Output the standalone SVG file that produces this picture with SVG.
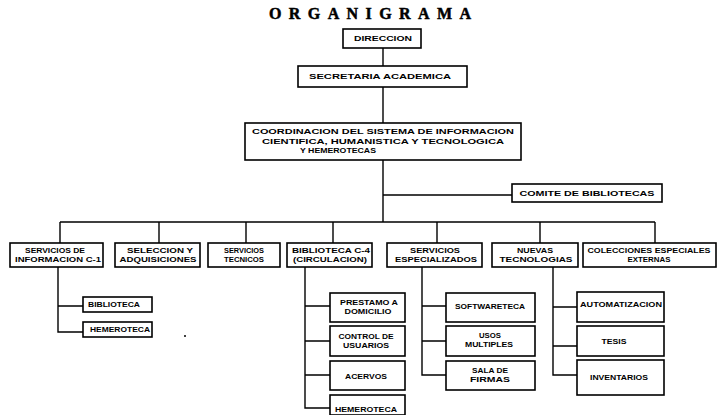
<svg xmlns="http://www.w3.org/2000/svg" width="720" height="415" viewBox="0 0 720 415">
<style>
.box{fill:#fff;stroke:#000;stroke-width:1.6}
.t{font-family:"Liberation Sans",Arial,sans-serif;font-weight:bold;font-size:7.2px;fill:#000;text-anchor:middle}
.c{stroke:#000;stroke-width:1.4;fill:none}
.title{font-family:"Liberation Serif","Times New Roman",serif;font-weight:900;font-size:16px;fill:#000;stroke:#000;stroke-width:0.5}
</style>
<rect width="720" height="415" fill="#fff"/>
<text class="title" x="269" y="19" textLength="202" lengthAdjust="spacing">ORGANIGRAMA</text>

<g id="connectors">
<path class="c" d="M383 48V66M383 87V123M383 160V222M383 195H512"/>
<path class="c" d="M60 222H655M60 222V243M159 222V243M246 222V243M333 222V243M437 222V243M540 222V243M655 222V243"/>
<path class="c" d="M58 267V332H83M58 306H83"/>
<path class="c" d="M305 267V408H330M305 306H330M305 341H330M305 375H330"/>
<path class="c" d="M422 267V375H446M422 306H446M422 341H446"/>
<path class="c" d="M553 267V375H577M553 307H577M553 346H577"/>
</g>

<g id="direccion"><rect class="box" x="343" y="29" width="78" height="19"/><text class="t" x="383" y="41" textLength="58" lengthAdjust="spacingAndGlyphs">DIRECCION</text></g>
<g id="secretaria"><rect class="box" x="298" y="66" width="169" height="21"/><text class="t" x="380" y="79" textLength="142" lengthAdjust="spacingAndGlyphs">SECRETARIA ACADEMICA</text></g>
<g id="coordinacion"><rect class="box" x="245" y="123" width="276" height="37"/>
<text class="t" x="383" y="134" textLength="262" lengthAdjust="spacingAndGlyphs">COORDINACION DEL SISTEMA DE INFORMACION</text>
<text class="t" x="383" y="143.5" textLength="242" lengthAdjust="spacingAndGlyphs">CIENTIFICA, HUMANISTICA Y TECNOLOGICA</text>
<text class="t" x="338" y="153" textLength="76" lengthAdjust="spacingAndGlyphs">Y  HEMEROTECAS</text></g>
<g id="comite"><rect class="box" x="512" y="184" width="150" height="18"/><text class="t" x="587" y="196" textLength="135" lengthAdjust="spacingAndGlyphs">COMITE DE BIBLIOTECAS</text></g>

<g id="servicios-informacion"><rect class="box" x="10" y="243" width="93" height="24"/><text class="t" x="55" y="253" textLength="60" lengthAdjust="spacingAndGlyphs">SERVICIOS DE</text><text class="t" x="58" y="262" textLength="86" lengthAdjust="spacingAndGlyphs">INFORMACION C-1</text></g>
<g id="seleccion"><rect class="box" x="115" y="243" width="85" height="24"/><text class="t" x="160" y="253" textLength="66" lengthAdjust="spacingAndGlyphs">SELECCION Y</text><text class="t" x="158" y="262" textLength="77" lengthAdjust="spacingAndGlyphs">ADQUISICIONES</text></g>
<g id="servicios-tecnicos"><rect class="box" x="208" y="243" width="72" height="24"/><text class="t" x="244" y="253" textLength="40" lengthAdjust="spacingAndGlyphs">SERVICIOS</text><text class="t" x="244" y="262" textLength="40" lengthAdjust="spacingAndGlyphs">TECNICOS</text></g>
<g id="biblioteca-c4"><rect class="box" x="287" y="243" width="85" height="24"/><text class="t" x="331" y="253" textLength="78" lengthAdjust="spacingAndGlyphs">BIBLIOTECA C-4</text><text class="t" x="330" y="262" textLength="74" lengthAdjust="spacingAndGlyphs">(CIRCULACION)</text></g>
<g id="servicios-especializados"><rect class="box" x="387" y="243" width="95" height="24"/><text class="t" x="435" y="253" textLength="50" lengthAdjust="spacingAndGlyphs">SERVICIOS</text><text class="t" x="436" y="262" textLength="82" lengthAdjust="spacingAndGlyphs">ESPECIALIZADOS</text></g>
<g id="nuevas-tecnologias"><rect class="box" x="492" y="243" width="86" height="24"/><text class="t" x="535" y="253" textLength="36" lengthAdjust="spacingAndGlyphs">NUEVAS</text><text class="t" x="536" y="262" textLength="73" lengthAdjust="spacingAndGlyphs">TECNOLOGIAS</text></g>
<g id="colecciones"><rect class="box" x="583" y="243" width="133" height="24"/><text class="t" x="649" y="253" textLength="123" lengthAdjust="spacingAndGlyphs">COLECCIONES ESPECIALES</text><text class="t" x="649" y="262" textLength="43" lengthAdjust="spacingAndGlyphs">EXTERNAS</text></g>

<g id="biblioteca"><rect class="box" x="83" y="297" width="69" height="15"/><text class="t" x="114" y="307" textLength="52" lengthAdjust="spacingAndGlyphs">BIBLIOTECA</text></g>
<g id="hemeroteca-1"><rect class="box" x="83" y="322" width="69" height="15"/><text class="t" x="120" y="332" textLength="60" lengthAdjust="spacingAndGlyphs">HEMEROTECA</text></g>

<g id="prestamo"><rect class="box" x="330" y="293" width="75" height="29"/><text class="t" x="369" y="305" textLength="58" lengthAdjust="spacingAndGlyphs">PRESTAMO A</text><text class="t" x="368" y="314" textLength="47" lengthAdjust="spacingAndGlyphs">DOMICILIO</text></g>
<g id="control"><rect class="box" x="330" y="326" width="75" height="30"/><text class="t" x="366" y="339" textLength="55" lengthAdjust="spacingAndGlyphs">CONTROL DE</text><text class="t" x="366" y="348" textLength="46" lengthAdjust="spacingAndGlyphs">USUARIOS</text></g>
<g id="acervos"><rect class="box" x="330" y="361" width="75" height="29"/><text class="t" x="366" y="379" textLength="42" lengthAdjust="spacingAndGlyphs">ACERVOS</text></g>
<g id="hemeroteca-2"><rect class="box" x="330" y="395" width="75" height="20"/><text class="t" x="366" y="412" textLength="62" lengthAdjust="spacingAndGlyphs">HEMEROTECA</text></g>

<g id="softwareteca"><rect class="box" x="446" y="293" width="89" height="29"/><text class="t" x="490" y="309" textLength="70" lengthAdjust="spacingAndGlyphs">SOFTWARETECA</text></g>
<g id="usos-multiples"><rect class="box" x="446" y="326" width="89" height="30"/><text class="t" x="490" y="338" textLength="22" lengthAdjust="spacingAndGlyphs">USOS</text><text class="t" x="489" y="347" textLength="48" lengthAdjust="spacingAndGlyphs">MULTIPLES</text></g>
<g id="sala"><rect class="box" x="446" y="361" width="89" height="29"/><text class="t" x="490" y="373" textLength="36" lengthAdjust="spacingAndGlyphs">SALA DE</text><text class="t" x="490" y="382" textLength="40" lengthAdjust="spacingAndGlyphs">FIRMAS</text></g>

<g id="automatizacion"><rect class="box" x="577" y="292" width="87" height="30"/><text class="t" x="621" y="307" textLength="82" lengthAdjust="spacingAndGlyphs">AUTOMATIZACION</text></g>
<g id="tesis"><rect class="box" x="577" y="326" width="87" height="30"/><text class="t" x="614" y="344" textLength="25" lengthAdjust="spacingAndGlyphs">TESIS</text></g>
<g id="inventarios"><rect class="box" x="577" y="360" width="87" height="35"/><text class="t" x="619" y="380" textLength="58" lengthAdjust="spacingAndGlyphs">INVENTARIOS</text></g>
<circle cx="185" cy="336" r="1" fill="#000"/>
</svg>
